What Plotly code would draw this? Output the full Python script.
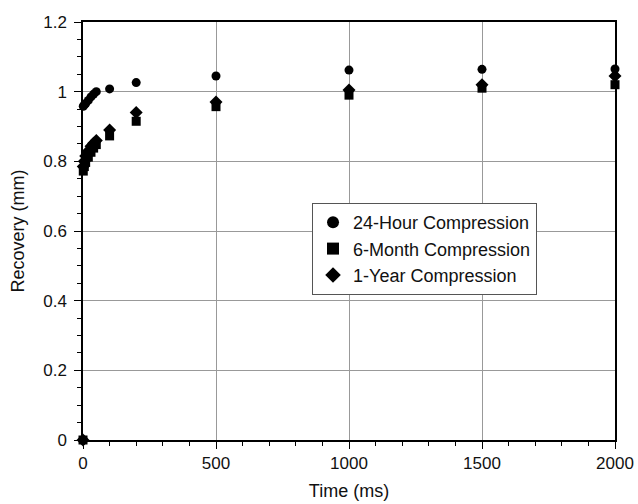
import plotly.graph_objects as go

time_ms = [0, 1, 5, 10, 20, 30, 40, 50, 100, 200, 500, 1000, 1500, 2000]
recovery_24h = [0, 0.958, 0.962, 0.966, 0.975, 0.985, 0.993, 1.0, 1.008, 1.026, 1.045, 1.062, 1.064, 1.065]
recovery_6mo = [0, 0.772, 0.785, 0.797, 0.812, 0.826, 0.838, 0.848, 0.873, 0.915, 0.957, 0.99, 1.01, 1.02]
recovery_1yr = [0, 0.785, 0.80, 0.815, 0.83, 0.843, 0.852, 0.86, 0.89, 0.94, 0.97, 1.005, 1.02, 1.045]
series_names = ["24-Hour Compression", "6-Month Compression", "1-Year Compression"]

FONT = "Liberation Sans, Arial, sans-serif"

fig = go.Figure()
fig.add_trace(go.Scatter(x=time_ms, y=recovery_24h, mode="markers", name=series_names[0],
                         marker=dict(symbol="circle", size=9, color="black"), cliponaxis=False))
fig.add_trace(go.Scatter(x=time_ms, y=recovery_6mo, mode="markers", name=series_names[1],
                         marker=dict(symbol="square", size=9, color="black"), cliponaxis=False))
fig.add_trace(go.Scatter(x=time_ms, y=recovery_1yr, mode="markers", name=series_names[2],
                         marker=dict(symbol="diamond", size=10, color="black"), cliponaxis=False))

fig.update_layout(
    width=638, height=504,
    margin=dict(l=83, r=23, t=22, b=64),
    paper_bgcolor="white", plot_bgcolor="white",
    font=dict(family=FONT, size=17, color="#111"),
    showlegend=True,
    legend=dict(x=0.4305, y=0.567, xanchor="left", yanchor="top",
                bordercolor="#555", borderwidth=1, bgcolor="white",
                font=dict(size=18, family=FONT, color="#111"), itemsizing="constant"),
)
fig.update_xaxes(
    range=[0, 2000], dtick=500, tick0=0, automargin=False,
    showgrid=True, gridcolor="#999", gridwidth=1,
    showline=True, linecolor="black", linewidth=1.5, mirror=True,
    ticks="outside", ticklen=7, tickcolor="black",
    minor=dict(dtick=100, ticks="outside", ticklen=4, tickcolor="black", showgrid=False),
    zeroline=False, ticklabeloverflow="allow",
    title=dict(text="Time (ms)", font=dict(size=18, family=FONT), standoff=12),
    tickfont=dict(size=17, family=FONT),
)
fig.update_yaxes(
    range=[0, 1.2], dtick=0.2, tick0=0, automargin=False,
    showgrid=True, gridcolor="#999", gridwidth=1,
    showline=True, linecolor="black", linewidth=1.5, mirror=True,
    ticks="outside", ticklen=7, tickcolor="black",
    minor=dict(dtick=0.05, ticks="outside", ticklen=4, tickcolor="black", showgrid=False),
    zeroline=False,
    ticklabelstandoff=4,
    title=dict(text="Recovery (mm)", font=dict(size=18, family=FONT), standoff=14),
    tickfont=dict(size=17, family=FONT),
)

fig.write_html("out.html", config={"displayModeBar": False},
               post_script="document.body.style.margin='0';")
